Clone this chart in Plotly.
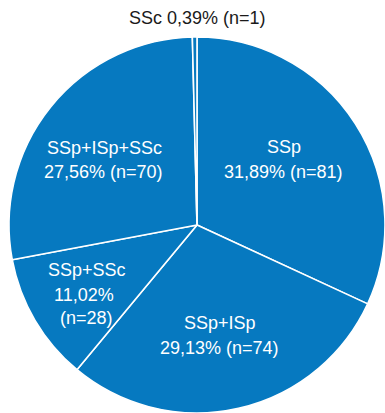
import plotly.graph_objects as go

# Group labels and patient counts, clockwise from 12 o'clock
groups = ["SSp", "SSp+ISp", "SSp+SSc", "SSp+ISp+SSc", "SSc"]
counts = [81, 74, 28, 70, 1]

W, H = 385, 413
BLUE = "#0679c0"
FONT = "Liberation Sans Narrow, Arial Narrow, Liberation Sans, Arial, sans-serif"

total = sum(counts)
pct = [c / total * 100 for c in counts]


def fmt_pct(p):
    return f"{p:.2f}".replace(".", ",") + "%"


fig = go.Figure(
    go.Pie(
        labels=groups,
        values=counts,
        sort=False,
        direction="clockwise",
        rotation=0,
        marker=dict(colors=[BLUE] * len(groups), line=dict(color="white", width=1.6)),
        textinfo="none",
        hoverinfo="label+value+percent",
        showlegend=False,
        domain=dict(x=[9 / W, 385 / W], y=[0, 376 / H]),
    )
)

# Label text per slice: list of lines and the pixel centre of each line
label_lines = {
    "SSp": [groups[0], f"{fmt_pct(pct[0])} (n={counts[0]})"],
    "SSp+ISp": [groups[1], f"{fmt_pct(pct[1])} (n={counts[1]})"],
    "SSp+SSc": [groups[2], fmt_pct(pct[2]), f"(n={counts[2]})"],
    "SSp+ISp+SSc": [groups[3], f"{fmt_pct(pct[3])} (n={counts[3]})"],
    "SSc": [f"{groups[4]} {fmt_pct(pct[4])} (n={counts[4]})"],
}
anchors = {
    "SSp": [(284, 147), (283, 172)],
    "SSp+ISp": [(220, 323), (219, 348)],
    "SSp+SSc": [(87, 270), (84, 295), (86, 318)],
    "SSp+ISp+SSc": [(105, 148), (104, 172)],
    "SSc": [(198, 18)],
}
colors = {"SSc": "#1a1a1a"}

annotations = []
for g in groups:
    for line, (px, py) in zip(label_lines[g], anchors[g]):
        annotations.append(
            dict(
                text=line,
                x=px / W,
                y=1 - py / H,
                xref="paper",
                yref="paper",
                xanchor="center",
                yanchor="middle",
                showarrow=False,
                font=dict(family=FONT, size=18, color=colors.get(g, "white")),
            )
        )

fig.update_layout(
    width=W,
    height=H,
    margin=dict(l=0, r=0, t=0, b=0),
    paper_bgcolor="white",
    plot_bgcolor="white",
    annotations=annotations,
)

fig.write_html("out.html")
